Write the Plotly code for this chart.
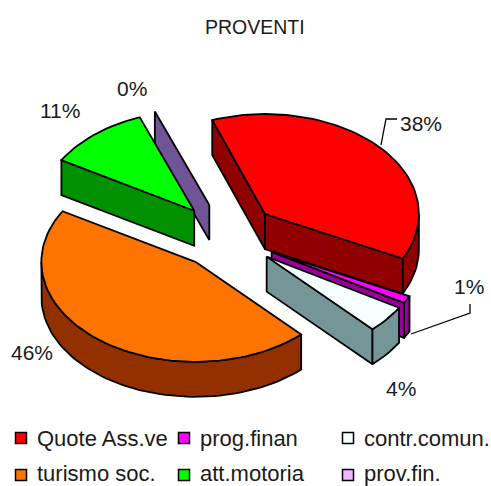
import math
import plotly.graph_objects as go

# --- data ---
categories = ["Quote Ass.ve", "prog.finan", "contr.comun.", "turismo soc.", "att.motoria", "prov.fin."]
values = [37.9, 1.2, 4.4, 45.5, 10.8, 0.2]
top_colors = ["#FF0000", "#FF00FF", "#F4FFFF", "#FF7300", "#00FF00", "#F2B3FF"]
side_colors = ["#900000", "#990099", "#749696", "#933000", "#009000", "#6F5597"]
title_text = "PROVENTI"

# --- layout of the tilted pie ---
W, H = 491, 486
CX, CY = 227, 236
RX, RY = 154, 100
DEPTH = 35
PULL = 0.33
START = -20.0
LINE = 1.8
FONT = "Liberation Sans, Arial, sans-serif"
TXT = "#1a1a1a"

label_pos = [(421, 123), (469, 286), (401, 388), (32, 352), (60, 110), (132, 88)]
legend_pos = [(21, 438), (184, 438), (348, 438), (21, 475), (184, 475), (348, 475)]
leaders = [[(381, 145), (386, 119), (397, 119)], [(411, 334), (470, 313), (470, 304)]]

fig = go.Figure()


def poly(pts, color, width=LINE):
    fig.add_trace(go.Scatter(
        x=[p[0] for p in pts] + [pts[0][0]],
        y=[p[1] for p in pts] + [pts[0][1]],
        mode="lines", fill="toself", fillcolor=color,
        line=dict(color="black", width=width, shape="linear"),
        hoverinfo="skip", showlegend=False))


def pt(cx, cy, t):
    r = math.radians(t)
    return (cx + RX * math.sin(r), cy - RY * math.cos(r))


# angles from values
total = sum(values)
angles = []
a = START
for v in values:
    b = a + v / total * 360
    angles.append((a, b))
    a = b


def faces_viewer(n):
    return math.cos(math.radians(n)) < 0


def draw_slice(i):
    t0, t1 = angles[i]
    mid = (t0 + t1) / 2
    cx, cy = pt(CX, CY, mid)
    cx = CX + PULL * (cx - CX)
    cy = CY + PULL * (cy - CY)
    down = lambda p: (p[0], p[1] + DEPTH)
    # radial walls
    for t, n in ((t0, t0 - 90), (t1, t1 + 90)):
        if faces_viewer(n):
            p = pt(cx, cy, t)
            poly([(cx, cy), p, down(p), (cx, cy + DEPTH)], side_colors[i])
    # rim wall: the part of the arc on the near side
    near = []
    for k in (-1, 0, 1):
        lo = max(t0, 90 + 360 * k)
        hi = min(t1, 270 + 360 * k)
        if lo < hi:
            near.append((lo, hi))
    for lo, hi in near:
        n = max(2, int((hi - lo) / 2))
        arc = [pt(cx, cy, lo + (hi - lo) * j / n) for j in range(n + 1)]
        poly(arc + [down(p) for p in reversed(arc)], side_colors[i])
    # top face
    n = max(2, int((t1 - t0) / 2))
    arc = [pt(cx, cy, t0 + (t1 - t0) * j / n) for j in range(n + 1)]
    if i != 5:
        poly([(cx, cy)] + arc, top_colors[i])


for i in [5, 4, 0, 1, 2, 3]:
    draw_slice(i)

# leader lines
for seg in leaders:
    fig.add_trace(go.Scatter(x=[p[0] for p in seg], y=[p[1] for p in seg], mode="lines",
                             line=dict(color="black", width=1.3), hoverinfo="skip", showlegend=False))

# legend swatches
fig.add_trace(go.Scatter(
    x=[p[0] for p in legend_pos], y=[p[1] for p in legend_pos], mode="markers",
    marker=dict(symbol="square", size=11, color=top_colors, line=dict(color="black", width=1.5)),
    hoverinfo="skip", showlegend=False))

annotations = []
for (x, y), name in zip(legend_pos, categories):
    annotations.append(dict(x=x + 14, y=min(y, 473), text=name, showarrow=False, xanchor="left", yanchor="middle",
                            xref="x", yref="y", font=dict(family=FONT, size=22, color=TXT)))
for (x, y), v in zip(label_pos, values):
    annotations.append(dict(x=x, y=y, text=f"{v:.0f}%", showarrow=False, xanchor="center", yanchor="middle",
                            xref="x", yref="y", font=dict(family=FONT, size=21, color=TXT)))
annotations.append(dict(x=255, y=27, text=title_text, showarrow=False, xanchor="center", yanchor="middle",
                        xref="x", yref="y", font=dict(family=FONT, size=19.5, color=TXT)))

fig.update_layout(
    width=W, height=H, margin=dict(l=0, r=0, t=0, b=0), autosize=False,
    paper_bgcolor="white", plot_bgcolor="white", annotations=annotations,
    xaxis=dict(range=[0, W], visible=False, fixedrange=True),
    yaxis=dict(range=[H, 0], visible=False, fixedrange=True))
fig.write_html("out.html", config={"displayModeBar": False, "responsive": False},
               post_script="document.body.style.margin='0';document.documentElement.style.overflow='hidden';")
